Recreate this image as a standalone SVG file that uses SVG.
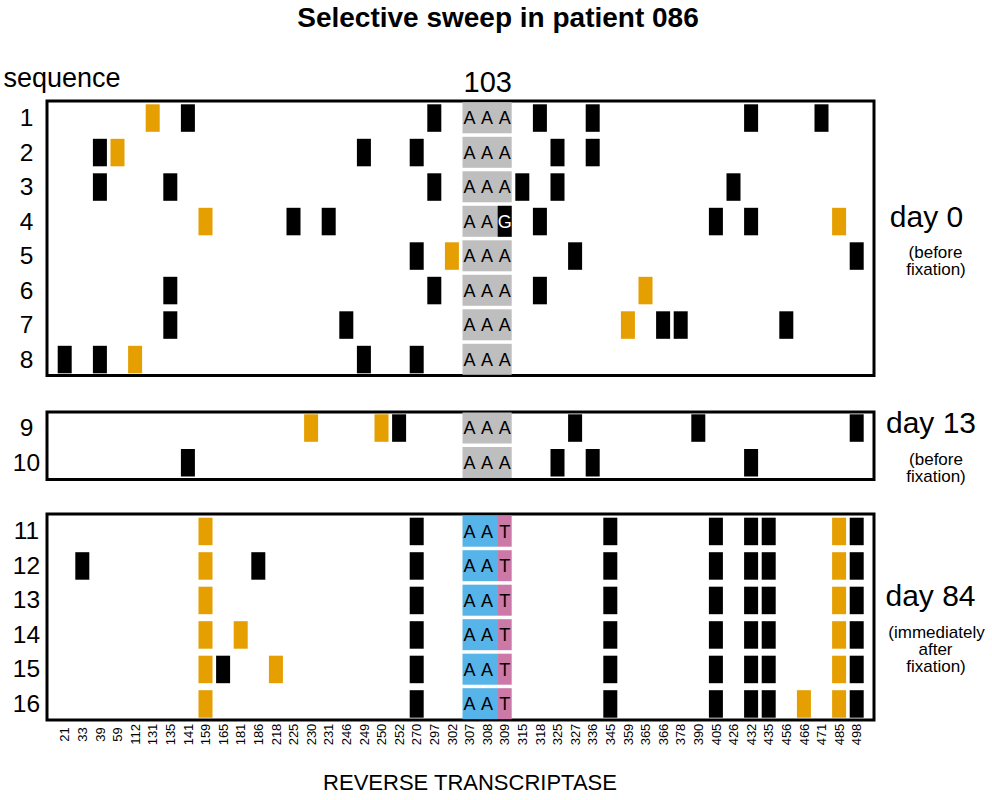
<svg xmlns="http://www.w3.org/2000/svg" xmlns:xlink="http://www.w3.org/1999/xlink" width="992" height="800" viewBox="0 0 992 800">
<style>
text{font-family:"Liberation Sans",Arial,sans-serif;fill:#000}
.b{fill:#000}.o{fill:#E69F00}.g{fill:#BEBEBE}.bl{fill:#56B4E9}.pk{fill:#CC79A7}
.frame{fill:none;stroke:#000;stroke-width:3}
.rn{font-size:24.5px;text-anchor:middle}
.nt{font-size:18px;text-anchor:middle}
.ax{font-size:13px;text-anchor:middle}
.day{font-size:30px;text-anchor:middle}
.sub{font-size:17px;text-anchor:middle}
</style>
<defs>
<rect id="m" width="14" height="27.5"/>
<rect id="gc" width="49.2" height="31"/>
</defs>
<rect width="992" height="800" fill="#fff"/>
<text x="498" y="27" style="font-size:28px;font-weight:bold;text-anchor:middle">Selective sweep in patient 086</text>
<text x="3.5" y="86.7" style="font-size:27px">sequence</text>
<text x="487.7" y="92.3" style="font-size:29px;text-anchor:middle">103</text>

<g id="panel-day0">
<rect class="frame" x="47" y="101" width="827" height="274.5"/>
<g id="seq1"><text class="rn" x="26.5" y="126">1</text><use href="#gc" class="g" x="462.5" y="102.3"/><text class="nt" x="469.5" y="124.3">A</text><text class="nt" x="487.1" y="124.3">A</text><text class="nt" x="504.7" y="124.3">A</text>
<use href="#m" class="o" x="145.7" y="104.3"/><use href="#m" class="b" x="180.9" y="104.3"/><use href="#m" class="b" x="427.3" y="104.3"/><use href="#m" class="b" x="532.9" y="104.3"/><use href="#m" class="b" x="585.7" y="104.3"/><use href="#m" class="b" x="744.1" y="104.3"/><use href="#m" class="b" x="814.5" y="104.3"/></g>
<g id="seq2"><text class="rn" x="26.5" y="160.5">2</text><use href="#gc" class="g" x="462.5" y="136.8"/><text class="nt" x="469.5" y="158.8">A</text><text class="nt" x="487.1" y="158.8">A</text><text class="nt" x="504.7" y="158.8">A</text>
<use href="#m" class="b" x="92.9" y="138.8"/><use href="#m" class="o" x="110.5" y="138.8"/><use href="#m" class="b" x="356.9" y="138.8"/><use href="#m" class="b" x="409.7" y="138.8"/><use href="#m" class="b" x="550.5" y="138.8"/><use href="#m" class="b" x="585.7" y="138.8"/></g>
<g id="seq3"><text class="rn" x="26.5" y="195">3</text><use href="#gc" class="g" x="462.5" y="171.3"/><text class="nt" x="469.5" y="193.3">A</text><text class="nt" x="487.1" y="193.3">A</text><text class="nt" x="504.7" y="193.3">A</text>
<use href="#m" class="b" x="92.9" y="173.3"/><use href="#m" class="b" x="163.3" y="173.3"/><use href="#m" class="b" x="427.3" y="173.3"/><use href="#m" class="b" x="515.3" y="173.3"/><use href="#m" class="b" x="550.5" y="173.3"/><use href="#m" class="b" x="726.5" y="173.3"/></g>
<g id="seq4"><text class="rn" x="26.5" y="229.5">4</text><use href="#gc" class="g" x="462.5" y="205.8"/><rect class="b" x="497.7" y="205.8" width="14" height="31"/><text class="nt" x="469.5" y="227.8">A</text><text class="nt" x="487.1" y="227.8">A</text><text class="nt" x="504.7" y="227.8" style="fill:#fff">G</text>
<use href="#m" class="o" x="198.5" y="207.8"/><use href="#m" class="b" x="286.5" y="207.8"/><use href="#m" class="b" x="321.7" y="207.8"/><use href="#m" class="b" x="532.9" y="207.8"/><use href="#m" class="b" x="708.9" y="207.8"/><use href="#m" class="b" x="744.1" y="207.8"/><use href="#m" class="o" x="832.1" y="207.8"/></g>
<g id="seq5"><text class="rn" x="26.5" y="264">5</text><use href="#gc" class="g" x="462.5" y="240.3"/><text class="nt" x="469.5" y="262.3">A</text><text class="nt" x="487.1" y="262.3">A</text><text class="nt" x="504.7" y="262.3">A</text>
<use href="#m" class="b" x="409.7" y="242.3"/><use href="#m" class="o" x="444.9" y="242.3"/><use href="#m" class="b" x="568.1" y="242.3"/><use href="#m" class="b" x="849.7" y="242.3"/></g>
<g id="seq6"><text class="rn" x="26.5" y="298.5">6</text><use href="#gc" class="g" x="462.5" y="274.8"/><text class="nt" x="469.5" y="296.8">A</text><text class="nt" x="487.1" y="296.8">A</text><text class="nt" x="504.7" y="296.8">A</text>
<use href="#m" class="b" x="163.3" y="276.8"/><use href="#m" class="b" x="427.3" y="276.8"/><use href="#m" class="b" x="532.9" y="276.8"/><use href="#m" class="o" x="638.5" y="276.8"/></g>
<g id="seq7"><text class="rn" x="26.5" y="333">7</text><use href="#gc" class="g" x="462.5" y="309.3"/><text class="nt" x="469.5" y="331.3">A</text><text class="nt" x="487.1" y="331.3">A</text><text class="nt" x="504.7" y="331.3">A</text>
<use href="#m" class="b" x="163.3" y="311.3"/><use href="#m" class="b" x="339.3" y="311.3"/><use href="#m" class="o" x="620.9" y="311.3"/><use href="#m" class="b" x="656.1" y="311.3"/><use href="#m" class="b" x="673.7" y="311.3"/><use href="#m" class="b" x="779.3" y="311.3"/></g>
<g id="seq8"><text class="rn" x="26.5" y="367.5">8</text><use href="#gc" class="g" x="462.5" y="343.8"/><text class="nt" x="469.5" y="365.8">A</text><text class="nt" x="487.1" y="365.8">A</text><text class="nt" x="504.7" y="365.8">A</text>
<use href="#m" class="b" x="57.7" y="345.8"/><use href="#m" class="b" x="92.9" y="345.8"/><use href="#m" class="o" x="128.1" y="345.8"/><use href="#m" class="b" x="356.9" y="345.8"/><use href="#m" class="b" x="409.7" y="345.8"/></g>
<text class="day" x="926.5" y="226.7">day 0</text>
<text class="sub" x="935.5" y="258">(before</text>
<text class="sub" x="936" y="275">fixation)</text>
</g>

<g id="panel-day13">
<rect class="frame" x="47" y="412" width="827" height="67.5"/>
<g id="seq9"><text class="rn" x="26.5" y="436">9</text><use href="#gc" class="g" x="462.5" y="412.5"/><text class="nt" x="469.5" y="434.3">A</text><text class="nt" x="487.1" y="434.3">A</text><text class="nt" x="504.7" y="434.3">A</text>
<use href="#m" class="o" x="304.1" y="414.3"/><use href="#m" class="o" x="374.5" y="414.3"/><use href="#m" class="b" x="392.1" y="414.3"/><use href="#m" class="b" x="568.1" y="414.3"/><use href="#m" class="b" x="691.3" y="414.3"/><use href="#m" class="b" x="849.7" y="414.3"/></g>
<g id="seq10"><text class="rn" x="26.5" y="470.7">10</text><use href="#gc" class="g" x="462.5" y="447"/><text class="nt" x="469.5" y="469">A</text><text class="nt" x="487.1" y="469">A</text><text class="nt" x="504.7" y="469">A</text>
<use href="#m" class="b" x="180.9" y="449"/><use href="#m" class="b" x="550.5" y="449"/><use href="#m" class="b" x="585.7" y="449"/><use href="#m" class="b" x="744.1" y="449"/></g>
<text class="day" x="931" y="433.3">day 13</text>
<text class="sub" x="936" y="465">(before</text>
<text class="sub" x="936" y="482">fixation)</text>
</g>

<g id="panel-day84">
<rect class="frame" x="47" y="514" width="827" height="206"/>
<g id="seq11"><text class="rn" x="26.5" y="539.4">11</text><rect class="bl" x="462.5" y="515.7" width="35.5" height="31"/><rect class="pk" x="498" y="515.7" width="13.7" height="31"/><text class="nt" x="469.5" y="537.7">A</text><text class="nt" x="487.1" y="537.7">A</text><text class="nt" x="504.7" y="537.7">T</text>
<use href="#m" class="o" x="198.5" y="517.7"/><use href="#m" class="b" x="409.7" y="517.7"/><use href="#m" class="b" x="603.3" y="517.7"/><use href="#m" class="b" x="708.9" y="517.7"/><use href="#m" class="b" x="744.1" y="517.7"/><use href="#m" class="b" x="761.7" y="517.7"/><use href="#m" class="o" x="832.1" y="517.7"/><use href="#m" class="b" x="849.7" y="517.7"/></g>
<g id="seq12"><text class="rn" x="26.5" y="573.9">12</text><rect class="bl" x="462.5" y="550.2" width="35.5" height="31"/><rect class="pk" x="498" y="550.2" width="13.7" height="31"/><text class="nt" x="469.5" y="572.2">A</text><text class="nt" x="487.1" y="572.2">A</text><text class="nt" x="504.7" y="572.2">T</text>
<use href="#m" class="b" x="75.3" y="552.2"/><use href="#m" class="o" x="198.5" y="552.2"/><use href="#m" class="b" x="251.3" y="552.2"/><use href="#m" class="b" x="409.7" y="552.2"/><use href="#m" class="b" x="603.3" y="552.2"/><use href="#m" class="b" x="708.9" y="552.2"/><use href="#m" class="b" x="744.1" y="552.2"/><use href="#m" class="b" x="761.7" y="552.2"/><use href="#m" class="o" x="832.1" y="552.2"/><use href="#m" class="b" x="849.7" y="552.2"/></g>
<g id="seq13"><text class="rn" x="26.5" y="608.4">13</text><rect class="bl" x="462.5" y="584.7" width="35.5" height="31"/><rect class="pk" x="498" y="584.7" width="13.7" height="31"/><text class="nt" x="469.5" y="606.7">A</text><text class="nt" x="487.1" y="606.7">A</text><text class="nt" x="504.7" y="606.7">T</text>
<use href="#m" class="o" x="198.5" y="586.7"/><use href="#m" class="b" x="409.7" y="586.7"/><use href="#m" class="b" x="603.3" y="586.7"/><use href="#m" class="b" x="708.9" y="586.7"/><use href="#m" class="b" x="744.1" y="586.7"/><use href="#m" class="b" x="761.7" y="586.7"/><use href="#m" class="o" x="832.1" y="586.7"/><use href="#m" class="b" x="849.7" y="586.7"/></g>
<g id="seq14"><text class="rn" x="26.5" y="642.9">14</text><rect class="bl" x="462.5" y="619.2" width="35.5" height="31"/><rect class="pk" x="498" y="619.2" width="13.7" height="31"/><text class="nt" x="469.5" y="641.2">A</text><text class="nt" x="487.1" y="641.2">A</text><text class="nt" x="504.7" y="641.2">T</text>
<use href="#m" class="o" x="198.5" y="621.2"/><use href="#m" class="o" x="233.7" y="621.2"/><use href="#m" class="b" x="409.7" y="621.2"/><use href="#m" class="b" x="603.3" y="621.2"/><use href="#m" class="b" x="708.9" y="621.2"/><use href="#m" class="b" x="744.1" y="621.2"/><use href="#m" class="b" x="761.7" y="621.2"/><use href="#m" class="o" x="832.1" y="621.2"/><use href="#m" class="b" x="849.7" y="621.2"/></g>
<g id="seq15"><text class="rn" x="26.5" y="677.4">15</text><rect class="bl" x="462.5" y="653.7" width="35.5" height="31"/><rect class="pk" x="498" y="653.7" width="13.7" height="31"/><text class="nt" x="469.5" y="675.7">A</text><text class="nt" x="487.1" y="675.7">A</text><text class="nt" x="504.7" y="675.7">T</text>
<use href="#m" class="o" x="198.5" y="655.7"/><use href="#m" class="b" x="216.1" y="655.7"/><use href="#m" class="o" x="268.9" y="655.7"/><use href="#m" class="b" x="409.7" y="655.7"/><use href="#m" class="b" x="603.3" y="655.7"/><use href="#m" class="b" x="708.9" y="655.7"/><use href="#m" class="b" x="744.1" y="655.7"/><use href="#m" class="b" x="761.7" y="655.7"/><use href="#m" class="o" x="832.1" y="655.7"/><use href="#m" class="b" x="849.7" y="655.7"/></g>
<g id="seq16"><text class="rn" x="26.5" y="711.9">16</text><rect class="bl" x="462.5" y="688.2" width="35.5" height="31"/><rect class="pk" x="498" y="688.2" width="13.7" height="31"/><text class="nt" x="469.5" y="710.2">A</text><text class="nt" x="487.1" y="710.2">A</text><text class="nt" x="504.7" y="710.2">T</text>
<use href="#m" class="o" x="198.5" y="690.2"/><use href="#m" class="b" x="409.7" y="690.2"/><use href="#m" class="b" x="603.3" y="690.2"/><use href="#m" class="b" x="708.9" y="690.2"/><use href="#m" class="b" x="744.1" y="690.2"/><use href="#m" class="b" x="761.7" y="690.2"/><use href="#m" class="o" x="796.9" y="690.2"/><use href="#m" class="o" x="832.1" y="690.2"/><use href="#m" class="b" x="849.7" y="690.2"/></g>
<text class="day" x="930.5" y="605.7">day 84</text>
<text class="sub" x="936.5" y="638">(immediately</text>
<text class="sub" x="935.5" y="655">after</text>
<text class="sub" x="936" y="672">fixation)</text>
</g>

<g id="axis">
<text class="ax" transform="translate(69.3,734.5) rotate(-90)">21</text>
<text class="ax" transform="translate(86.9,734.5) rotate(-90)">33</text>
<text class="ax" transform="translate(104.5,734.5) rotate(-90)">39</text>
<text class="ax" transform="translate(122.1,734.5) rotate(-90)">59</text>
<text class="ax" transform="translate(139.7,734.5) rotate(-90)">112</text>
<text class="ax" transform="translate(157.3,734.5) rotate(-90)">131</text>
<text class="ax" transform="translate(174.9,734.5) rotate(-90)">135</text>
<text class="ax" transform="translate(192.5,734.5) rotate(-90)">141</text>
<text class="ax" transform="translate(210.1,734.5) rotate(-90)">159</text>
<text class="ax" transform="translate(227.7,734.5) rotate(-90)">165</text>
<text class="ax" transform="translate(245.3,734.5) rotate(-90)">181</text>
<text class="ax" transform="translate(262.9,734.5) rotate(-90)">186</text>
<text class="ax" transform="translate(280.5,734.5) rotate(-90)">218</text>
<text class="ax" transform="translate(298.1,734.5) rotate(-90)">225</text>
<text class="ax" transform="translate(315.7,734.5) rotate(-90)">230</text>
<text class="ax" transform="translate(333.3,734.5) rotate(-90)">231</text>
<text class="ax" transform="translate(350.9,734.5) rotate(-90)">246</text>
<text class="ax" transform="translate(368.5,734.5) rotate(-90)">249</text>
<text class="ax" transform="translate(386.1,734.5) rotate(-90)">250</text>
<text class="ax" transform="translate(403.7,734.5) rotate(-90)">252</text>
<text class="ax" transform="translate(421.3,734.5) rotate(-90)">270</text>
<text class="ax" transform="translate(438.9,734.5) rotate(-90)">297</text>
<text class="ax" transform="translate(456.5,734.5) rotate(-90)">302</text>
<text class="ax" transform="translate(474.1,734.5) rotate(-90)">307</text>
<text class="ax" transform="translate(491.7,734.5) rotate(-90)">308</text>
<text class="ax" transform="translate(509.3,734.5) rotate(-90)">309</text>
<text class="ax" transform="translate(526.9,734.5) rotate(-90)">315</text>
<text class="ax" transform="translate(544.5,734.5) rotate(-90)">318</text>
<text class="ax" transform="translate(562.1,734.5) rotate(-90)">325</text>
<text class="ax" transform="translate(579.7,734.5) rotate(-90)">327</text>
<text class="ax" transform="translate(597.3,734.5) rotate(-90)">336</text>
<text class="ax" transform="translate(614.9,734.5) rotate(-90)">345</text>
<text class="ax" transform="translate(632.5,734.5) rotate(-90)">359</text>
<text class="ax" transform="translate(650.1,734.5) rotate(-90)">365</text>
<text class="ax" transform="translate(667.7,734.5) rotate(-90)">366</text>
<text class="ax" transform="translate(685.3,734.5) rotate(-90)">378</text>
<text class="ax" transform="translate(702.9,734.5) rotate(-90)">390</text>
<text class="ax" transform="translate(720.5,734.5) rotate(-90)">405</text>
<text class="ax" transform="translate(738.1,734.5) rotate(-90)">426</text>
<text class="ax" transform="translate(755.7,734.5) rotate(-90)">432</text>
<text class="ax" transform="translate(773.3,734.5) rotate(-90)">435</text>
<text class="ax" transform="translate(790.9,734.5) rotate(-90)">456</text>
<text class="ax" transform="translate(808.5,734.5) rotate(-90)">466</text>
<text class="ax" transform="translate(826.1,734.5) rotate(-90)">471</text>
<text class="ax" transform="translate(843.7,734.5) rotate(-90)">485</text>
<text class="ax" transform="translate(861.3,734.5) rotate(-90)">498</text>
<text x="470" y="790" style="font-size:22px;text-anchor:middle">REVERSE TRANSCRIPTASE</text>
</g>
<g id="connectors"/>
</svg>
